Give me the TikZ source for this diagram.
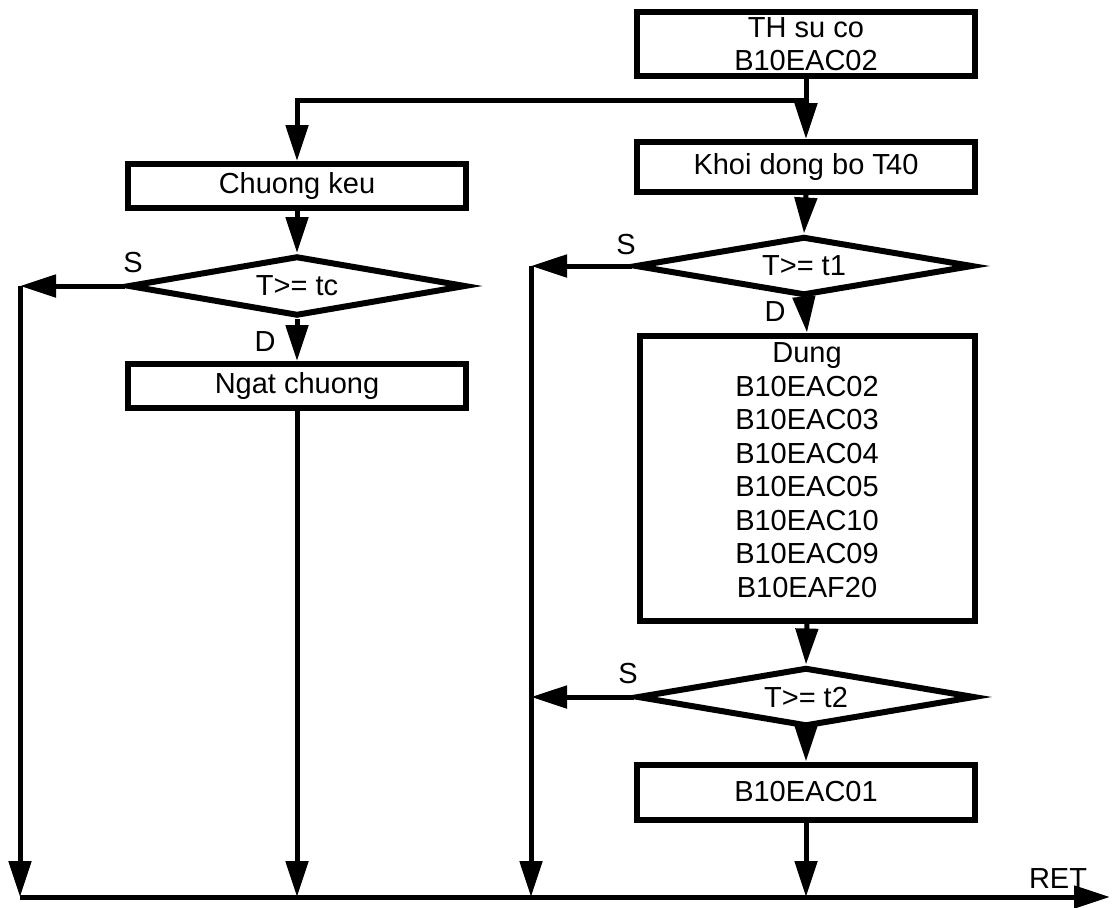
\documentclass[tikz,border=0pt]{standalone}
\usepackage{fontspec}
\setmainfont{Liberation Sans}
\usetikzlibrary{arrows.meta,shapes.geometric}
\begin{document}
\begin{tikzpicture}[x=1pt,y=-1pt,
  every node/.style={font=\fontsize{29}{33.5}\selectfont},
  stepbox/.style={draw,line width=6pt,rectangle,inner sep=0pt,align=center,minimum width=338pt},
  testbox/.style={draw,line width=6pt,diamond,aspect=5.8,inner sep=0pt,minimum width=338pt,minimum height=59pt},
  arr/.style={line width=5pt,-{Triangle[length=36pt,width=22pt]}},
  ln/.style={line width=5pt},
  tag/.style={inner sep=0pt}]
\useasboundingbox (0,0) rectangle (1113,907);

% right column
\node[stepbox,minimum height=63pt] (th) at (806,44) {TH su co\\B10EAC02};
\node[stepbox,minimum height=50pt] (khoi) at (806,167) {Khoi dong bo T\kern-4pt40};
\node[testbox] (dt1) at (804,266) {T>= t1};
\node[stepbox,minimum height=285pt,minimum width=335pt] (dung) at (807,478) {};
\node[tag,align=center,yshift=8pt] (dungtxt) at (dung.center)
  {Dung\\B10EAC02\\B10EAC03\\B10EAC04\\B10EAC05\\B10EAC10\\B10EAC09\\B10EAF20};
\node[testbox] (dt2) at (806,697) {T>= t2};
\node[stepbox,minimum height=55pt] (b01) at (806,792) {B10EAC01};

% left column
\node[stepbox,minimum height=44pt] (chuong) at (297,186) {Chuong keu};
\node[testbox,minimum height=60pt] (dtc) at (297,286) {T>= tc};
\node[stepbox,minimum height=44pt] (ngat) at (297,386) {Ngat chuong};

% junction points
\coordinate (split) at (806,100);
\coordinate (bot) at (20,897);
\coordinate (botend) at (1110,897);
\coordinate (lbus) at (20,286);
\coordinate (rbus) at (531,266);

% main flow
\draw[ln] (th.south) -- (split);
\draw[arr] (split) -- (khoi.north);
\draw[arr] (split) -| (chuong.north);
\draw[arr] (khoi.south) -- (dt1.north);
\draw[arr] (dt1.south) -- (dung.north);
\draw[arr] (dung.south) -- (dt2.north);
\draw[arr] (dt2.south) -- (b01.north);
\draw[arr] (b01.south) -- (b01.south |- bot);
\draw[arr] (chuong.south) -- (dtc.north);
\draw[arr] (dtc.south) -- (ngat.north);
\draw[arr] (ngat.south) -- (ngat.south |- bot);

% "S" branches to the collecting lines
\draw[arr] (dtc.west) -- (lbus);
\draw[arr] (lbus) -- (bot);
\draw[arr] (dt1.west) -- (rbus);
\draw[arr] (dt2.west) -- (rbus |- dt2.west);
\draw[arr] (rbus) -- (rbus |- bot);

% return line
\draw[arr] (bot) -- (botend);

% branch labels
\node[tag] (s1) at (133,263) {S};
\node[tag] (d1) at (265,342) {D};
\node[tag] (s2) at (626,245) {S};
\node[tag] (d2) at (775,312) {D};
\node[tag] (s3) at (628,674) {S};
\node[tag] (ret) at (1058,879) {RET};
\end{tikzpicture}
\end{document}
